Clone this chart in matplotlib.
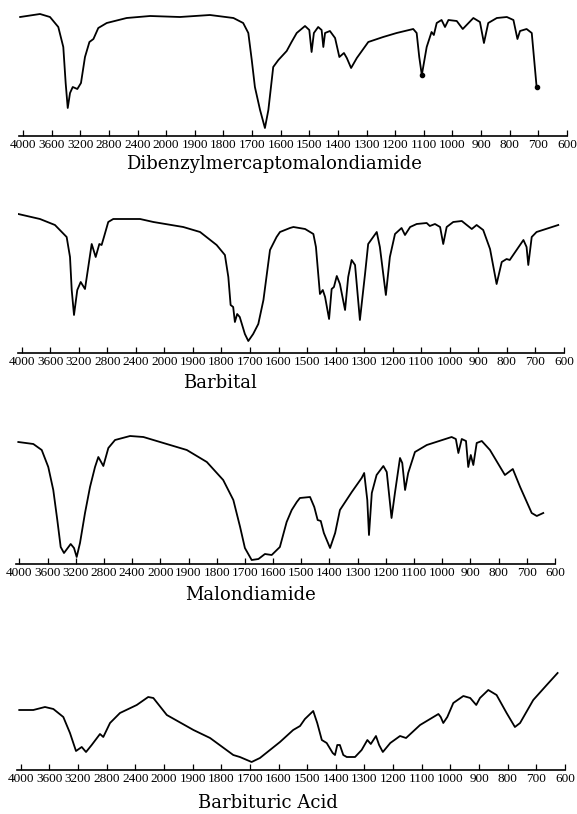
import matplotlib
matplotlib.use("Agg")
import matplotlib.pyplot as plt
import numpy as np

# wavenumber (cm-1) and pen height above the baseline
dibenzyl_wn = [4040, 3762, 3623, 3507, 3437, 3404, 3375, 3343, 3305, 3241, 3190, 3134, 3072, 3016,
               2948, 2830, 2552, 2224, 1952, 1847, 1765, 1731, 1713, 1701, 1690, 1672, 1655, 1643,
               1626, 1608, 1579, 1562, 1544, 1515, 1500, 1492, 1484, 1469, 1457, 1451, 1445, 1428,
               1410, 1395, 1379, 1369, 1354, 1334, 1294, 1242, 1195, 1137, 1125, 1116, 1107, 1090,
               1073, 1065, 1055, 1038, 1026, 1014, 985, 964, 927, 904, 890, 875, 845, 810, 787, 773,
               764, 741, 723, 706]
dibenzyl_t = [119, 122, 119, 109, 89, 53, 28, 43, 49, 47, 53, 79, 94, 97,
              108, 113, 118, 120, 119, 121, 118, 113, 103, 76, 49, 26, 8, 26,
              69, 76, 85, 94, 103, 110, 106, 84, 103, 109, 106, 89, 103, 105,
              98, 79, 83, 78, 68, 78, 94, 99, 103, 107, 103, 79, 61, 89,
              104, 101, 113, 116, 109, 116, 115, 107, 118, 114, 93, 113, 118, 119, 116, 97,
              105, 107, 103, 49]

barbital_wn = [4048, 3744, 3534, 3370, 3323, 3299, 3267, 3221, 3173, 3113, 3067, 3019, 2963, 2912,
               2880, 2847, 2787, 2717, 2341, 2154, 1934, 1875, 1817, 1788, 1776, 1768, 1759, 1753,
               1745, 1736, 1718, 1706, 1689, 1671, 1653, 1630, 1607, 1595, 1560, 1548, 1507, 1478,
               1469, 1461, 1455, 1445, 1437, 1423, 1414, 1406, 1396, 1385, 1367, 1356, 1344, 1332,
               1315, 1297, 1286, 1256, 1245, 1224, 1210, 1192, 1169, 1157, 1139, 1116, 1081, 1070,
               1052, 1034, 1023, 1011, 988, 958, 923, 906, 883, 859, 836, 818, 801, 790, 742, 731,
               725, 713, 696, 620]
barbital_t = [139, 134, 128, 116, 96, 63, 38, 63, 71, 64, 86, 109, 96, 109,
              108, 116, 131, 134, 134, 131, 126, 121, 108, 98, 76, 48, 46, 31,
              39, 36, 19, 12, 19, 29, 53, 103, 116, 121, 125, 126, 124, 119,
              106, 79, 59, 63, 56, 34, 64, 66, 77, 69, 43, 76, 93, 88,
              33, 79, 109, 121, 106, 58, 96, 119, 125, 118, 126, 129, 130, 127,
              129, 126, 109, 126, 131, 132, 124, 128, 123, 104, 69, 91, 94, 93, 113, 106,
              88, 116, 121, 128]

malon_wn = [4014, 3801, 3682, 3589, 3518, 3461, 3413, 3366, 3271, 3224, 3186, 3139, 3068, 2997,
            2926, 2879, 2808, 2737, 2642, 2429, 2240, 1989, 1906, 1835, 1777, 1741, 1717, 1700,
            1676, 1652, 1629, 1605, 1576, 1552, 1534, 1516, 1505, 1469, 1454, 1442, 1431, 1420,
            1398, 1380, 1363, 1321, 1286, 1277, 1266, 1260, 1250, 1233, 1209, 1197, 1180, 1168,
            1150, 1142, 1132, 1121, 1097, 1055, 967, 952, 943, 931, 916, 908, 899, 890, 878, 860,
            831, 795, 778, 750, 724, 683, 665, 642]
malon_t = [122, 120, 114, 97, 74, 44, 17, 11, 20, 16, 7, 21, 51, 77,
           97, 107, 98, 116, 124, 128, 127, 121, 114, 102, 84, 64, 37, 16,
           4, 5, 10, 9, 17, 42, 54, 62, 66, 67, 57, 44, 43, 31,
           16, 31, 54, 72, 86, 91, 64, 29, 71, 89, 98, 92, 46, 71,
           106, 101, 74, 91, 112, 119, 127, 125, 111, 125, 123, 97, 109, 99, 121, 123,
           114, 97, 89, 95, 77, 51, 48, 51]

barbituric_wn = [4020, 3824, 3661, 3544, 3405, 3312, 3228, 3148, 3088, 3009, 2893, 2847, 2753, 2614,
                 2380, 2220, 2148, 1990, 1897, 1839, 1758, 1735, 1694, 1665, 1595, 1549, 1525, 1508,
                 1479, 1465, 1449, 1432, 1411, 1403, 1395, 1386, 1374, 1362, 1333, 1310, 1290, 1278,
                 1260, 1249, 1236, 1210, 1176, 1155, 1106, 1042, 1034, 1025, 1011, 990, 955, 931,
                 910, 897, 868, 839, 804, 775, 757, 711, 664, 626]
barbituric_t = [60, 60, 63, 61, 53, 37, 19, 23, 18, 25, 36, 33, 47, 57,
                65, 73, 72, 55, 40, 32, 15, 13, 8, 12, 28, 40, 44, 51,
                59, 47, 30, 27, 17, 15, 25, 25, 15, 13, 13, 20, 30, 26,
                34, 25, 18, 27, 34, 32, 45, 56, 53, 47, 53, 67, 74, 72,
                65, 72, 80, 75, 57, 43, 47, 70, 85, 97]

titles = ["Dibenzylmercaptomalondiamide", "Barbital", "Malondiamide", "Barbituric Acid"]
tick_wn = [4000, 3600, 3200, 2800, 2400, 2000, 1900, 1800, 1700, 1600, 1500, 1400, 1300,
           1200, 1100, 1000, 900, 800, 700, 600]

spectra = [(dibenzyl_wn, dibenzyl_t), (barbital_wn, barbital_t),
           (malon_wn, malon_t), (barbituric_wn, barbituric_t)]

# pen dots left on the first chart (sharp 1107 band and the end of the trace)
dots = [[dibenzyl_wn.index(1107), len(dibenzyl_wn) - 1], [], [], []]


# chart paper: 400 cm-1 steps above 2000, 100 cm-1 steps below, same spacing
# (increasing in wavenumber; the axis is then inverted with set_xlim)
def fwd(w):
    w = np.asarray(w, dtype=float)
    return np.where(w >= 2000, (w - 4000) / 400, (w - 2000) / 100 - 5)


def inv(q):
    q = np.asarray(q, dtype=float)
    return np.where(q >= -5, 4000 + 400 * q, 2000 + 100 * (q + 5))


W, H = 577, 814
fig = plt.figure(figsize=(W / 100, H / 100), dpi=100)

# pixel layout: x of 4000 tick, tick step, baseline y, panel height, title centre
layout = [(23.0, 28.63, 136, 128, 274, 164),
          (21.7, 28.54, 353, 142, 220, 383),
          (19.3, 28.20, 564, 142, 251, 595),
          (20.7, 28.65, 770, 142, 268, 803)]

for (wn, t), title, (x0, step, base, ph, tx, ty), mk in zip(spectra, titles, layout, dots):
    left = x0 - 0.125 * step
    width = 19.125 * step
    ax = fig.add_axes([left / W, (H - base) / H, width / W, ph / H])
    ax.set_xscale("function", functions=(fwd, inv))
    ax.plot(wn, t, color="black", lw=1.3, solid_joinstyle="round",
            marker="o", ms=3, markevery=mk)
    ax.set_xlim(4050, 600)
    ax.set_ylim(0, ph)
    for s in ["top", "left", "right"]:
        ax.spines[s].set_visible(False)
    ax.spines["bottom"].set_linewidth(1.2)
    ax.set_yticks([])
    ax.set_xticks(tick_wn)
    ax.set_xticklabels([str(v) for v in tick_wn])
    ax.xaxis.set_minor_locator(matplotlib.ticker.NullLocator())
    ax.tick_params(axis="x", direction="in", length=4, width=0.9, pad=2,
                   labelsize=9.5, labelfontfamily="Liberation Serif")
    ax.patch.set_alpha(0)
    fig.text(tx / W, 1 - ty / H, title, ha="center", va="center",
             fontsize=13, family="DejaVu Serif")

fig.savefig("out.png", dpi=100)
